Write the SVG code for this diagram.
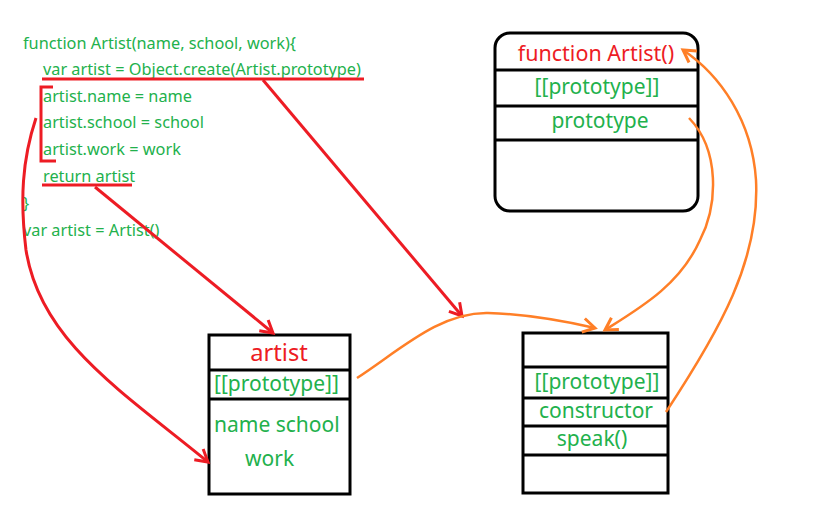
<svg xmlns="http://www.w3.org/2000/svg" width="823" height="532" viewBox="0 0 823 532">
<defs>
<style>
.code{font-family:"Noto Sans","Open Sans",sans-serif;font-size:16.3px;fill:#22b14c}
.g{font-family:"Noto Sans","Open Sans",sans-serif;font-size:21px;fill:#22b14c}
.r{font-family:"Noto Sans","Open Sans",sans-serif;fill:#ed1c24}
.box{fill:#fff;stroke:#000;stroke-width:3}
.div{stroke:#000;stroke-width:3}
.red{fill:none;stroke:#ed1c24;stroke-width:3}
.ora{fill:none;stroke:#ff7f27;stroke-width:2.5}
</style>
<marker id="ar" markerUnits="userSpaceOnUse" markerWidth="20" markerHeight="20" refX="14" refY="10" orient="auto" viewBox="0 0 20 20">
<path d="M2,3 L14,10 L2,17" fill="none" stroke="#ed1c24" stroke-width="3"/>
</marker>
<marker id="ao" markerUnits="userSpaceOnUse" markerWidth="20" markerHeight="20" refX="14" refY="10" orient="auto" viewBox="0 0 20 20">
<path d="M2,3 L14,10 L2,17" fill="none" stroke="#ff7f27" stroke-width="3"/>
</marker>
</defs>
<rect width="823" height="532" fill="#fff"/>
<g id="code">
<text class="code" x="23" y="49">function Artist(name, school, work){</text>
<text class="code" x="43" y="75">var artist = Object.create(Artist.prototype)</text>
<text class="code" x="43" y="102">artist.name = name</text>
<text class="code" x="43" y="128">artist.school = school</text>
<text class="code" x="43" y="155">artist.work = work</text>
<text class="code" x="43" y="182">return artist</text>
<text class="code" x="23" y="209">}</text>
<text class="code" x="23" y="236">var artist = Artist()</text>
<path class="red" d="M42,79 H364 M42,185 H132 M53,87 H41 V161 H56"/>
</g>
<g id="fnArtist">
<rect class="box" x="495" y="33" width="203" height="178" rx="15"/>
<path class="div" d="M495,70 H698 M495,106 H698 M495,140 H698"/>
<text class="r" x="596" y="61" font-size="21.5" text-anchor="middle">function Artist()</text>
<text class="g" x="597" y="94" text-anchor="middle">[[prototype]]</text>
<text class="g" x="600" y="128" font-size="21.5" text-anchor="middle">prototype</text>
</g>
<g id="artistObj">
<rect class="box" x="209" y="335" width="141" height="159"/>
<path class="div" d="M209,370 H350 M209,399 H350"/>
<text class="r" x="279" y="361" font-size="23.7" text-anchor="middle">artist</text>
<text class="g" x="214" y="391" font-size="21">[[prototype]]</text>
<text class="g" x="214" y="432" font-size="18.8">name school</text>
<text class="g" x="245" y="466" font-size="19">work</text>
</g>
<g id="protoObj">
<rect class="box" x="523" y="333" width="145" height="160"/>
<path class="div" d="M523,367 H668 M523,398 H668 M523,426 H668 M523,455 H668"/>
<text class="g" x="597" y="389" text-anchor="middle">[[prototype]]</text>
<text class="g" x="596" y="418" font-size="16.8" text-anchor="middle">constructor</text>
<text class="g" x="592" y="446" font-size="21" text-anchor="middle">speak()</text>
</g>
<g id="connectors">
<path class="red" d="M263,80 L462,316" marker-end="url(#ar)"/>
<path class="red" d="M95,187 L273,333" marker-end="url(#ar)"/>
<path class="red" d="M36,118 C22,160 20,200 26,250 C40,340 120,390 208,462" marker-end="url(#ar)"/>
<path class="ora" d="M357,378 C400,350 440,312 488,313 C525,314 560,320 595,328" marker-end="url(#ao)"/>
<path class="ora" d="M689,118 C720,150 718,205 700,240 C680,285 640,308 605,330" marker-end="url(#ao)"/>
<path class="ora" d="M666,412 C720,330 760,260 756,180 C752,120 720,75 683,50" marker-end="url(#ao)"/>
</g>
</svg>
